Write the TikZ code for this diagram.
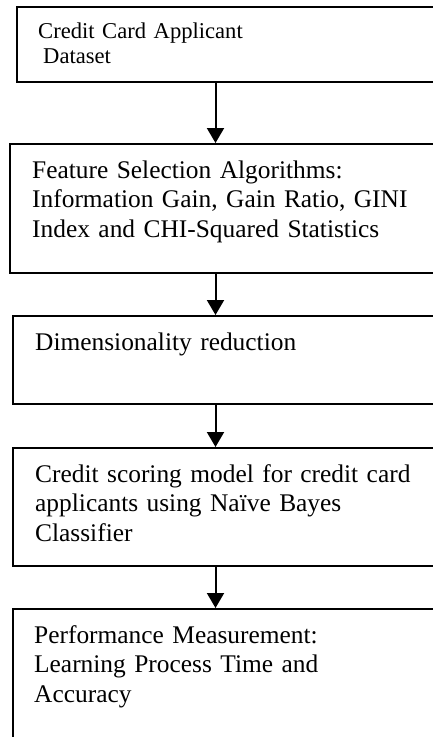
\documentclass[tikz,border=0pt]{standalone}
\usepackage{fontspec}
\setmainfont{Liberation Serif}
\usetikzlibrary{arrows.meta}

\tikzset{
  stage/.style={draw, line width=2pt, rectangle, anchor=north west, inner sep=0pt, minimum width=440pt},
  stagetext/.style={anchor=base west, inner sep=0pt, text width=390pt, align=left, font=\fontsize{25.4}{29.5}\selectfont},
  flow/.style={-{Triangle[width=17pt,length=15pt]}, line width=2pt},
}

\begin{document}
\begin{tikzpicture}[x=1pt, y=-1pt]
\useasboundingbox (0,0) rectangle (433,737);
\clip (0,0) rectangle (433,737);

% Input data
\node[stage, minimum height=75pt] (data) at (16,6) {};
\node[stagetext, font=\fontsize{22.6}{25}\selectfont] (datatext) at ([shift={(22,32)}]data.north west) {Credit Card Applicant\\\hspace*{5pt}Dataset};

% Feature selection
\node[stage, minimum height=129pt] (select) at (9,143) {};
\node[stagetext] (selecttext) at ([shift={(23,35)}]select.north west) {Feature Selection Algorithms:\\Information Gain, Gain Ratio, GINI\\Index and CHI-Squared Statistics};

% Reduction
\node[stage, minimum height=88pt] (reduce) at (12,315) {};
\node[stagetext] (reducetext) at ([shift={(23,35)}]reduce.north west) {Dimensionality reduction};

% Scoring model
\node[stage, minimum height=118pt] (model) at (12,447) {};
\node[stagetext] (modeltext) at ([shift={(23,35)}]model.north west) {Credit scoring model for credit card\\applicants using Naïve Bayes\\Classifier};

% Evaluation
\node[stage, minimum height=170pt] (perf) at (12,608) {};
\node[stagetext] (perftext) at ([shift={(22,35)}]perf.north west) {Performance Measurement:\\Learning Process Time and\\Accuracy};

% Arrows
\coordinate (spine) at (215.5,0);
\draw[flow] (data.south -| spine) -- (select.north -| spine);
\draw[flow] (select.south -| spine) -- (reduce.north -| spine);
\draw[flow] (reduce.south -| spine) -- (model.north -| spine);
\draw[flow] (model.south -| spine) -- (perf.north -| spine);

\end{tikzpicture}
\end{document}
